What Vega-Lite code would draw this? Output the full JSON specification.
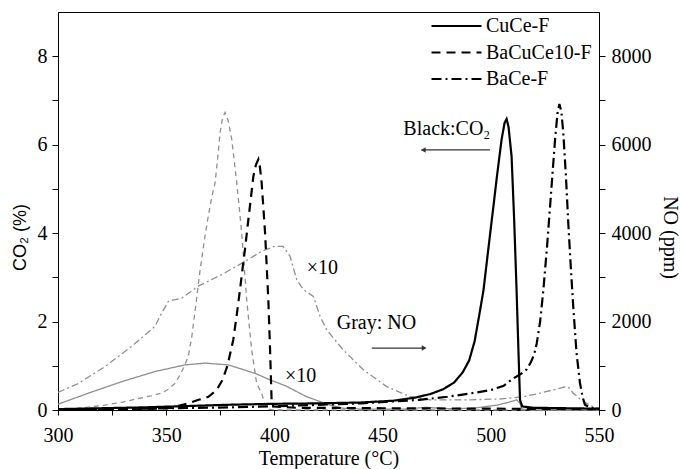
{
  "$schema": "https://vega.github.io/schema/vega-lite/v6.json",
  "width": 541,
  "height": 398,
  "autosize": {"type": "none"},
  "padding": {"left": 58, "top": 12, "right": 81, "bottom": 59},
  "config": {
    "view": {"stroke": "#000", "strokeWidth": 1},
    "font": "Liberation Serif",
    "axis": {
      "labelFont": "Liberation Serif", "labelFontSize": 20, "labelColor": "#000",
      "titleFont": "Liberation Serif", "titleFontSize": 20, "titleFontWeight": "normal", "titleColor": "#000",
      "domainColor": "#000", "tickColor": "#000", "grid": false, "labelFlush": false, "labelOverlap": false
    },
    "legend": {
      "orient": "none", "legendX": 372, "legendY": 4, "symbolType": "stroke", "symbolSize": 2500,
      "symbolStrokeWidth": 2.2, "symbolStrokeColor": "#000", "labelFont": "Liberation Serif",
      "labelFontSize": 20, "labelColor": "#000", "labelOffset": 3, "rowPadding": 6.5, "clipHeight": 20,
      "padding": 0, "title": null
    }
  },
  "datasets": {
    "co2": [
      {"T":300,"CO2":0.02,"sample":"CuCe-F"},{"T":320,"CO2":0.04,"sample":"CuCe-F"},{"T":340,"CO2":0.06,"sample":"CuCe-F"},{"T":360,"CO2":0.09,"sample":"CuCe-F"},{"T":380,"CO2":0.12,"sample":"CuCe-F"},{"T":400,"CO2":0.14,"sample":"CuCe-F"},{"T":420,"CO2":0.15,"sample":"CuCe-F"},{"T":440,"CO2":0.17,"sample":"CuCe-F"},{"T":455,"CO2":0.21,"sample":"CuCe-F"},{"T":465,"CO2":0.28,"sample":"CuCe-F"},{"T":472,"CO2":0.36,"sample":"CuCe-F"},{"T":478,"CO2":0.47,"sample":"CuCe-F"},{"T":483,"CO2":0.62,"sample":"CuCe-F"},{"T":487,"CO2":0.85,"sample":"CuCe-F"},{"T":490,"CO2":1.12,"sample":"CuCe-F"},{"T":492.5,"CO2":1.55,"sample":"CuCe-F"},{"T":494.5,"CO2":2.1,"sample":"CuCe-F"},{"T":496.6,"CO2":2.7,"sample":"CuCe-F"},{"T":499,"CO2":3.7,"sample":"CuCe-F"},{"T":501.2,"CO2":4.6,"sample":"CuCe-F"},{"T":503,"CO2":5.35,"sample":"CuCe-F"},{"T":505,"CO2":6.12,"sample":"CuCe-F"},{"T":506.4,"CO2":6.5,"sample":"CuCe-F"},{"T":507.3,"CO2":6.58,"sample":"CuCe-F"},{"T":508.2,"CO2":6.4,"sample":"CuCe-F"},{"T":509.6,"CO2":5.74,"sample":"CuCe-F"},{"T":510.8,"CO2":4.3,"sample":"CuCe-F"},{"T":511.9,"CO2":2.72,"sample":"CuCe-F"},{"T":512.8,"CO2":1.3,"sample":"CuCe-F"},{"T":513.5,"CO2":0.23,"sample":"CuCe-F"},{"T":514.5,"CO2":0.08,"sample":"CuCe-F"},{"T":520,"CO2":0.05,"sample":"CuCe-F"},{"T":535,"CO2":0.04,"sample":"CuCe-F"},{"T":550,"CO2":0.03,"sample":"CuCe-F"},
      {"T":300,"CO2":0.0,"sample":"BaCuCe10-F"},{"T":330,"CO2":0.01,"sample":"BaCuCe10-F"},{"T":345,"CO2":0.03,"sample":"BaCuCe10-F"},{"T":352.5,"CO2":0.05,"sample":"BaCuCe10-F"},{"T":360,"CO2":0.15,"sample":"BaCuCe10-F"},{"T":365,"CO2":0.23,"sample":"BaCuCe10-F"},{"T":369.5,"CO2":0.3,"sample":"BaCuCe10-F"},{"T":373.3,"CO2":0.45,"sample":"BaCuCe10-F"},{"T":376,"CO2":0.68,"sample":"BaCuCe10-F"},{"T":378.3,"CO2":1.0,"sample":"BaCuCe10-F"},{"T":381,"CO2":1.59,"sample":"BaCuCe10-F"},{"T":382.6,"CO2":2.15,"sample":"BaCuCe10-F"},{"T":384.1,"CO2":2.72,"sample":"BaCuCe10-F"},{"T":385.3,"CO2":3.2,"sample":"BaCuCe10-F"},{"T":386.4,"CO2":3.63,"sample":"BaCuCe10-F"},{"T":387.6,"CO2":4.15,"sample":"BaCuCe10-F"},{"T":388.7,"CO2":4.61,"sample":"BaCuCe10-F"},{"T":390.3,"CO2":5.29,"sample":"BaCuCe10-F"},{"T":391.5,"CO2":5.55,"sample":"BaCuCe10-F"},{"T":392.6,"CO2":5.67,"sample":"BaCuCe10-F"},{"T":393.3,"CO2":5.5,"sample":"BaCuCe10-F"},{"T":394.1,"CO2":5.14,"sample":"BaCuCe10-F"},{"T":395.7,"CO2":4.0,"sample":"BaCuCe10-F"},{"T":397.2,"CO2":2.49,"sample":"BaCuCe10-F"},{"T":398,"CO2":1.36,"sample":"BaCuCe10-F"},{"T":398.7,"CO2":0.23,"sample":"BaCuCe10-F"},{"T":399.5,"CO2":0.08,"sample":"BaCuCe10-F"},{"T":410,"CO2":0.05,"sample":"BaCuCe10-F"},{"T":450,"CO2":0.04,"sample":"BaCuCe10-F"},{"T":500,"CO2":0.03,"sample":"BaCuCe10-F"},{"T":550,"CO2":0.02,"sample":"BaCuCe10-F"},
      {"T":300,"CO2":0.01,"sample":"BaCe-F"},{"T":340,"CO2":0.03,"sample":"BaCe-F"},{"T":380,"CO2":0.06,"sample":"BaCe-F"},{"T":410,"CO2":0.1,"sample":"BaCe-F"},{"T":440,"CO2":0.15,"sample":"BaCe-F"},{"T":467,"CO2":0.23,"sample":"BaCe-F"},{"T":480,"CO2":0.3,"sample":"BaCe-F"},{"T":490,"CO2":0.37,"sample":"BaCe-F"},{"T":500,"CO2":0.45,"sample":"BaCe-F"},{"T":506,"CO2":0.55,"sample":"BaCe-F"},{"T":510,"CO2":0.7,"sample":"BaCe-F"},{"T":514,"CO2":0.82,"sample":"BaCe-F"},{"T":516.6,"CO2":0.92,"sample":"BaCe-F"},{"T":518.5,"CO2":1.08,"sample":"BaCe-F"},{"T":520,"CO2":1.25,"sample":"BaCe-F"},{"T":521.2,"CO2":1.5,"sample":"BaCe-F"},{"T":522.8,"CO2":2.0,"sample":"BaCe-F"},{"T":524.3,"CO2":2.72,"sample":"BaCe-F"},{"T":526,"CO2":3.7,"sample":"BaCe-F"},{"T":527.4,"CO2":4.61,"sample":"BaCe-F"},{"T":528.6,"CO2":5.4,"sample":"BaCe-F"},{"T":529.7,"CO2":6.12,"sample":"BaCe-F"},{"T":530.8,"CO2":6.7,"sample":"BaCe-F"},{"T":531.7,"CO2":6.92,"sample":"BaCe-F"},{"T":532.6,"CO2":6.75,"sample":"BaCe-F"},{"T":533.5,"CO2":6.27,"sample":"BaCe-F"},{"T":534.7,"CO2":5.3,"sample":"BaCe-F"},{"T":535.8,"CO2":4.23,"sample":"BaCe-F"},{"T":537,"CO2":3.2,"sample":"BaCe-F"},{"T":538.1,"CO2":2.34,"sample":"BaCe-F"},{"T":539.6,"CO2":1.3,"sample":"BaCe-F"},{"T":541.2,"CO2":0.61,"sample":"BaCe-F"},{"T":542.5,"CO2":0.28,"sample":"BaCe-F"},{"T":543.5,"CO2":0.12,"sample":"BaCe-F"},{"T":546,"CO2":0.05,"sample":"BaCe-F"},{"T":550,"CO2":0.02,"sample":"BaCe-F"}
    ],
    "no": [
      {"T":300,"NO":10,"sample":"BaCuCe10-F"},{"T":310,"NO":40,"sample":"BaCuCe10-F"},{"T":321.7,"NO":110,"sample":"BaCuCe10-F"},{"T":330,"NO":180,"sample":"BaCuCe10-F"},{"T":337.1,"NO":260,"sample":"BaCuCe10-F"},{"T":343,"NO":320,"sample":"BaCuCe10-F"},{"T":347.9,"NO":380,"sample":"BaCuCe10-F"},{"T":351,"NO":470,"sample":"BaCuCe10-F"},{"T":354,"NO":600,"sample":"BaCuCe10-F"},{"T":356,"NO":760,"sample":"BaCuCe10-F"},{"T":357.9,"NO":940,"sample":"BaCuCe10-F"},{"T":360.2,"NO":1210,"sample":"BaCuCe10-F"},{"T":361.8,"NO":1650,"sample":"BaCuCe10-F"},{"T":363.5,"NO":2300,"sample":"BaCuCe10-F"},{"T":365.5,"NO":3100,"sample":"BaCuCe10-F"},{"T":367.5,"NO":3800,"sample":"BaCuCe10-F"},{"T":369.5,"NO":4400,"sample":"BaCuCe10-F"},{"T":371,"NO":4800,"sample":"BaCuCe10-F"},{"T":372.6,"NO":5140,"sample":"BaCuCe10-F"},{"T":374,"NO":5800,"sample":"BaCuCe10-F"},{"T":374.9,"NO":6270,"sample":"BaCuCe10-F"},{"T":376,"NO":6600,"sample":"BaCuCe10-F"},{"T":377.2,"NO":6730,"sample":"BaCuCe10-F"},{"T":378.6,"NO":6550,"sample":"BaCuCe10-F"},{"T":380.3,"NO":6120,"sample":"BaCuCe10-F"},{"T":382.6,"NO":5140,"sample":"BaCuCe10-F"},{"T":384.9,"NO":4010,"sample":"BaCuCe10-F"},{"T":387.2,"NO":2490,"sample":"BaCuCe10-F"},{"T":389.5,"NO":1360,"sample":"BaCuCe10-F"},{"T":391.8,"NO":600,"sample":"BaCuCe10-F"},{"T":394.1,"NO":380,"sample":"BaCuCe10-F"},{"T":395.5,"NO":150,"sample":"BaCuCe10-F"},{"T":396.4,"NO":20,"sample":"BaCuCe10-F"},{"T":400,"NO":0,"sample":"BaCuCe10-F"},{"T":550,"NO":0,"sample":"BaCuCe10-F"},
      {"T":300,"NO":400,"sample":"BaCe-F"},{"T":309.4,"NO":600,"sample":"BaCe-F"},{"T":321.7,"NO":980,"sample":"BaCe-F"},{"T":334.1,"NO":1440,"sample":"BaCe-F"},{"T":344.8,"NO":1890,"sample":"BaCe-F"},{"T":347.9,"NO":2190,"sample":"BaCe-F"},{"T":351,"NO":2460,"sample":"BaCe-F"},{"T":357.2,"NO":2530,"sample":"BaCe-F"},{"T":364.8,"NO":2800,"sample":"BaCe-F"},{"T":375.6,"NO":3060,"sample":"BaCe-F"},{"T":386.4,"NO":3360,"sample":"BaCe-F"},{"T":394.1,"NO":3590,"sample":"BaCe-F"},{"T":400,"NO":3700,"sample":"BaCe-F"},{"T":404,"NO":3700,"sample":"BaCe-F"},{"T":407.2,"NO":3480,"sample":"BaCe-F"},{"T":410.3,"NO":2950,"sample":"BaCe-F"},{"T":413.4,"NO":2720,"sample":"BaCe-F"},{"T":418,"NO":2570,"sample":"BaCe-F"},{"T":421.1,"NO":2120,"sample":"BaCe-F"},{"T":424.2,"NO":1810,"sample":"BaCe-F"},{"T":431.8,"NO":1360,"sample":"BaCe-F"},{"T":441.1,"NO":910,"sample":"BaCe-F"},{"T":451.9,"NO":530,"sample":"BaCe-F"},{"T":462.7,"NO":300,"sample":"BaCe-F"},{"T":471.9,"NO":230,"sample":"BaCe-F"},{"T":490,"NO":230,"sample":"BaCe-F"},{"T":505,"NO":250,"sample":"BaCe-F"},{"T":515,"NO":300,"sample":"BaCe-F"},{"T":522.7,"NO":380,"sample":"BaCe-F"},{"T":530,"NO":470,"sample":"BaCe-F"},{"T":534,"NO":520,"sample":"BaCe-F"},{"T":536,"NO":510,"sample":"BaCe-F"},{"T":538.1,"NO":380,"sample":"BaCe-F"},{"T":541,"NO":260,"sample":"BaCe-F"},{"T":544.3,"NO":150,"sample":"BaCe-F"},{"T":547,"NO":80,"sample":"BaCe-F"},{"T":550,"NO":30,"sample":"BaCe-F"},
      {"T":300,"NO":130,"sample":"CuCe-F"},{"T":314,"NO":380,"sample":"CuCe-F"},{"T":329.4,"NO":640,"sample":"CuCe-F"},{"T":344.8,"NO":870,"sample":"CuCe-F"},{"T":358.7,"NO":1020,"sample":"CuCe-F"},{"T":368,"NO":1060,"sample":"CuCe-F"},{"T":378.7,"NO":1020,"sample":"CuCe-F"},{"T":391,"NO":830,"sample":"CuCe-F"},{"T":398,"NO":680,"sample":"CuCe-F"},{"T":405,"NO":550,"sample":"CuCe-F"},{"T":414.9,"NO":300,"sample":"CuCe-F"},{"T":425.7,"NO":110,"sample":"CuCe-F"},{"T":431.8,"NO":40,"sample":"CuCe-F"},{"T":440,"NO":20,"sample":"CuCe-F"},{"T":460,"NO":20,"sample":"CuCe-F"},{"T":470,"NO":60,"sample":"CuCe-F"},{"T":480,"NO":30,"sample":"CuCe-F"},{"T":491.9,"NO":40,"sample":"CuCe-F"},{"T":502.7,"NO":110,"sample":"CuCe-F"},{"T":508,"NO":170,"sample":"CuCe-F"},{"T":512,"NO":230,"sample":"CuCe-F"},{"T":513.5,"NO":150,"sample":"CuCe-F"},{"T":514.3,"NO":20,"sample":"CuCe-F"},{"T":520,"NO":0,"sample":"CuCe-F"},{"T":550,"NO":0,"sample":"CuCe-F"}
    ],
    "notes": [
      {"T":414.9,"y":3.22,"label":"×10"},
      {"T":404.9,"y":0.78,"label":"×10"},
      {"T":428.8,"y":1.97,"label":"Gray: NO"},
      {"T":459.6,"y":6.35,"label":"Black:CO₂"}
    ],
    "arrows": [
      {"T":468,"T2":499.6,"y":5.88},
      {"T":445,"T2":469.5,"y":1.4}
    ],
    "heads": [
      {"T":468.8,"y":5.88,"shape":"triangle-left"},
      {"T":469.2,"y":1.4,"shape":"triangle-right"}
    ]
  },
  "encoding": {
    "x": {
      "field": "T", "type": "quantitative",
      "scale": {"domain": [300, 550], "nice": false},
      "axis": {
        "title": "Temperature (°C)", "values": [300,325,350,375,400,425,450,475,500,525,550],
        "labelExpr": "datum.value % 50 == 0 ? datum.label : ''",
        "tickSize": 5, "labelPadding": 10, "titleBaseline": "alphabetic", "titleY": 54
      }
    }
  },
  "layer": [
    {
      "data": {"name": "no"},
      "mark": {"type": "line", "color": "#8f8f8f", "strokeWidth": 1.3},
      "encoding": {
        "y": {
          "field": "NO", "type": "quantitative",
          "scale": {"domain": [0, 9000], "nice": false},
          "axis": {
            "orient": "right", "title": "NO (ppm)", "values": [0,1000,2000,3000,4000,5000,6000,7000,8000],
            "labelExpr": "datum.value % 2000 == 0 ? datum.label : ''", "format": "d",
            "tickSize": 6, "labelPadding": 6, "labelBaseline": "middle",
            "titleAngle": 90, "titleX": 70, "titleY": 225, "titleAlign": "center", "titleBaseline": "middle"
          }
        },
        "strokeDash": {
          "field": "sample", "type": "nominal",
          "scale": {"domain": ["CuCe-F", "BaCuCe10-F", "BaCe-F"], "range": [[1, 0], [5, 4], [7, 3, 2, 3]]},
          "legend": null
        }
      }
    },
    {
      "data": {"name": "co2"},
      "mark": {"type": "line", "color": "#000", "strokeWidth": 2.2},
      "encoding": {
        "y": {
          "field": "CO2", "type": "quantitative",
          "scale": {"domain": [0, 9], "nice": false},
          "axis": {
            "orient": "left", "title": "CO₂ (%)", "values": [0,1,2,3,4,5,6,7,8],
            "labelExpr": "datum.value % 2 == 0 ? datum.label : ''",
            "tickSize": 6, "labelPadding": 5, "labelBaseline": "middle",
            "titleFont": "Liberation Sans", "titleFontSize": 18,
            "titleAngle": 270, "titleX": -38, "titleY": 225, "titleAlign": "center", "titleBaseline": "middle"
          }
        },
        "strokeDash": {
          "field": "sample", "type": "nominal",
          "scale": {"domain": ["CuCe-F", "BaCuCe10-F", "BaCe-F"], "range": [[1, 0], [9, 6], [10, 4, 2, 4]]}
        }
      }
    },
    {
      "data": {"name": "notes"},
      "mark": {"type": "text", "align": "left", "baseline": "middle", "font": "Liberation Serif", "fontSize": 20, "color": "#000"},
      "encoding": {
        "y": {"field": "y", "type": "quantitative", "scale": {"domain": [0, 9], "nice": false}, "axis": null},
        "text": {"field": "label"}
      }
    },
    {
      "data": {"name": "arrows"},
      "mark": {"type": "rule", "color": "#333", "strokeWidth": 1.2},
      "encoding": {
        "x2": {"field": "T2"},
        "y": {"field": "y", "type": "quantitative", "scale": {"domain": [0, 9], "nice": false}, "axis": null}
      }
    },
    {
      "data": {"name": "heads"},
      "mark": {"type": "point", "filled": true, "color": "#333", "size": 30, "opacity": 1},
      "encoding": {
        "y": {"field": "y", "type": "quantitative", "scale": {"domain": [0, 9], "nice": false}, "axis": null},
        "shape": {"field": "shape", "type": "nominal", "scale": null}
      }
    }
  ],
  "resolve": {"scale": {"y": "independent", "strokeDash": "independent"}}
}
